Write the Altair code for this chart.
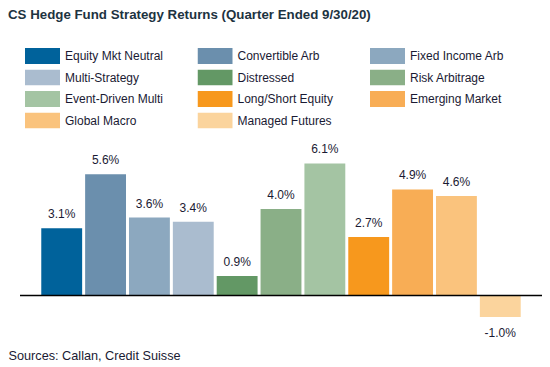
import altair as alt
import pandas as pd

categories = ["Equity Mkt Neutral", "Convertible Arb", "Fixed Income Arb",
              "Multi-Strategy", "Distressed", "Risk Arbitrage",
              "Event-Driven Multi", "Long/Short Equity", "Emerging Market",
              "Global Macro", "Managed Futures"]
returns = [3.1, 5.6, 3.6, 3.4, 0.9, 4.0, 6.1, 2.7, 4.9, 4.6, -1.0]
colors = ["#00629B", "#6B8FAD", "#8CA8BF", "#AABCCF", "#639865", "#8AAF87",
          "#A4C4A3", "#F7981D", "#F8AD55", "#FAC37D", "#FBD49D"]

title_text = "CS Hedge Fund Strategy Returns (Quarter Ended 9/30/20)"
source_text = "Sources: Callan, Credit Suisse"

df = pd.DataFrame({"strategy": categories, "ret": returns})
df["label"] = [f"{v:.1f}%" for v in returns]
zero_df = pd.DataFrame({"z": [0]})

FONT = "Liberation Sans"
TEXT_COLOR = "#1a1a33"

x_enc = alt.X(
    "strategy:N", sort=categories,
    scale=alt.Scale(paddingInner=0.068, paddingOuter=0.485),
    axis=alt.Axis(labels=False, ticks=False, domain=False, grid=False,
                  title=source_text, titleX=-12, titleY=29,
                  titleAlign="left", titleAnchor="start",
                  titleBaseline="alphabetic", titleFont=FONT,
                  titleFontSize=12.7, titleFontWeight="normal",
                  titleColor=TEXT_COLOR),
)
y_enc = alt.Y("ret:Q", scale=alt.Scale(domain=[-1.6, 7], nice=False, zero=True),
              axis=None)

bars = alt.Chart(df).mark_bar().encode(
    x=x_enc, y=y_enc,
    color=alt.Color(
        "strategy:N", sort=categories,
        scale=alt.Scale(domain=categories, range=colors),
        legend=alt.Legend(
            orient="none", legendX=5, legendY=-96, columns=3, title=None,
            direction="horizontal",
            symbolType="M-1,-0.457L1,-0.457L1,0.457L-1,0.457Z",
            symbolSize=1225, symbolStrokeWidth=0, symbolOpacity=1,
            clipHeight=16,
            labelFont=FONT, labelFontSize=12, labelColor=TEXT_COLOR,
            labelOffset=5, rowPadding=5.5, columnPadding=33.5,
            gridAlign="all", labelLimit=300,
        ),
    ),
)

rule = alt.Chart(zero_df).mark_rule(color="#000000", strokeWidth=1.5).encode(
    y=alt.Y("z:Q")
)

pos_text = alt.Chart(df).transform_filter("datum.ret >= 0").mark_text(
    dy=-10, baseline="alphabetic", font=FONT, fontSize=12, color=TEXT_COLOR
).encode(x=alt.X("strategy:N", sort=categories), y="ret:Q", text="label:N")

neg_text = alt.Chart(df).transform_filter("datum.ret < 0").mark_text(
    dy=20, baseline="alphabetic", font=FONT, fontSize=12, color=TEXT_COLOR
).encode(x=alt.X("strategy:N", sort=categories), y="ret:Q", text="label:N")

chart = alt.layer(bars, rule, pos_text, neg_text).properties(
    width=522, height=186,
    title=alt.TitleParams(text=title_text, anchor="start", frame="group",
                          dx=-12, dy=-27, fontSize=13.3, font=FONT,
                          fontWeight="bold", color="#1D3341", offset=0),
    padding={"left": 12, "top": 136, "right": 0, "bottom": 37},
    autosize=alt.AutoSizeParams(type="none"),
).configure_view(stroke=None)

chart.save("out.html", embed_options={"renderer": "svg", "actions": False})
